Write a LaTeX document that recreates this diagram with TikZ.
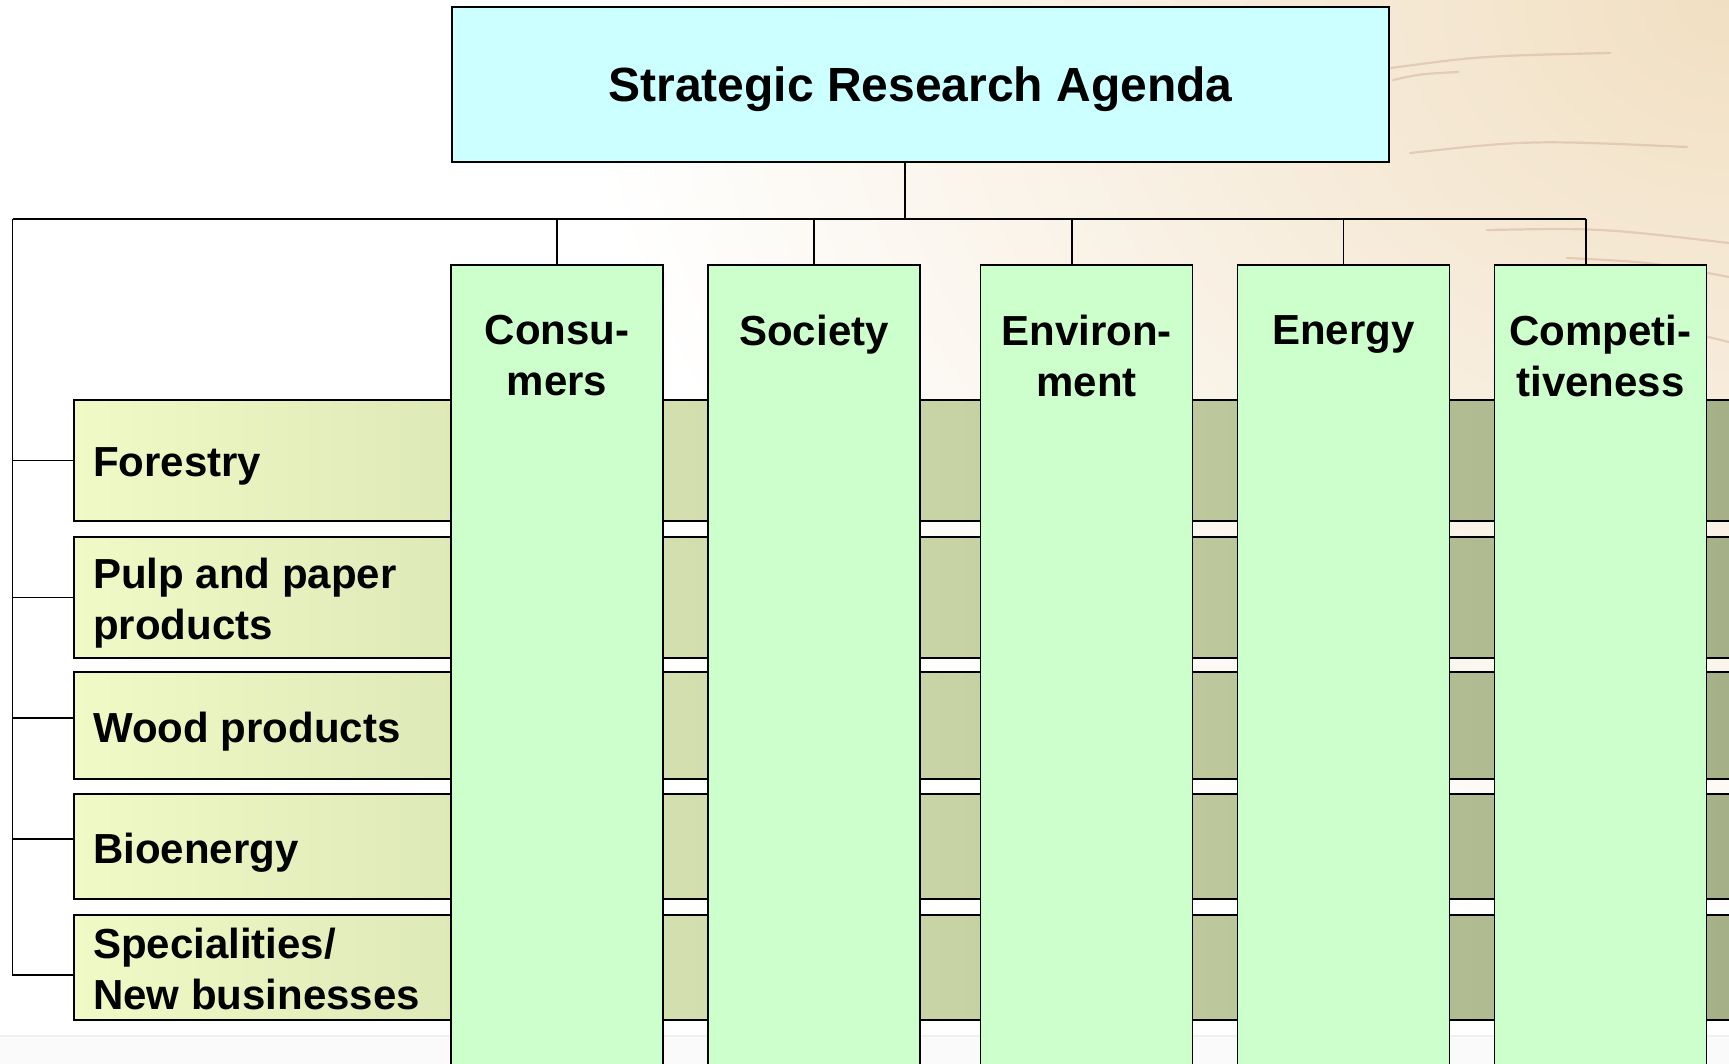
\documentclass[tikz,border=0pt]{standalone}
\usepackage{fontspec}
\setmainfont{Liberation Sans}
\usetikzlibrary{positioning}

\definecolor{agendablue}{HTML}{CCFFFF}
\definecolor{themegreen}{HTML}{CCFFCC}
\definecolor{rowlight}{HTML}{EFFAC6}
\definecolor{rowmid}{HTML}{CDD6A5}
\definecolor{rowdark}{HTML}{A3AE86}
\definecolor{woodbeige}{HTML}{F1DFC2}
\definecolor{woodstreak}{HTML}{D6B49E}

\tikzset{
  agenda/.style={draw, line width=1.8pt, fill=agendablue, minimum width=937pt, minimum height=155pt,
    text height=35pt, text depth=0pt, font=\fontsize{48}{58}\selectfont\bfseries},
  theme/.style={draw, line width=1.7pt, fill=themegreen, minimum width=212pt, minimum height=830pt, anchor=north},
  themetext/.style={align=center, inner sep=0pt, font=\fontsize{42}{51}\selectfont\bfseries},
  sector/.style={draw, line width=1.7pt, left color=rowlight, middle color=rowmid, right color=rowdark,
    minimum width=1700pt, anchor=west},
  sectortext/.style={align=left, inner sep=0pt, font=\fontsize{42}{51}\selectfont\bfseries},
  link/.style={line width=1.7pt},
  streak/.style={woodstreak, line width=2.2pt, opacity=0.55, line cap=round},
}

\begin{document}
\begin{tikzpicture}[x=1pt,y=-1pt]
            \useasboundingbox (0,0) rectangle (1729,1064);
            \clip (0,0) rectangle (1729,1064);
            % slide background
            \fill[white] (0,0) rectangle (1729,1064);
            \shade[inner color=woodbeige, outer color=white] (1729,0) ellipse (1150 and 950);
            \draw[streak] (1391,68) .. controls (1480,56) .. (1610,53);
            \draw[streak] (1393,80) .. controls (1420,74) .. (1458,72);
            \draw[streak] (1410,153) .. controls (1530,140) .. (1687,147);
            \draw[streak] (1487,230) .. controls (1600,228) .. (1729,243);
            \draw[streak] (1567,258) .. controls (1650,262) .. (1729,277);
            \draw[streak] (1700,335) .. controls (1715,338) .. (1729,342);
            \fill[black!2] (0,1036) rectangle (1729,1064);
            \draw[black!6, line width=1.5pt] (0,1036) -- (1729,1036);

            % sectors
            \node[sector, minimum height=121pt] (fore) at (73,460.5) {};
            \node[sector, minimum height=121pt] (pulp) at (73,597.5) {};
            \node[sector, minimum height=107pt] (wood) at (73,725.5) {};
            \node[sector, minimum height=105pt] (bio) at (73,846.5) {};
            \node[sector, minimum height=105pt] (spec) at (73,967.5) {};

            % themes
            \node[theme] (cons) at (557,264) {};
            \node[theme] (soc) at (814,264) {};
            \node[theme] (env) at (1086.5,264) {};
            \node[theme] (ener) at (1343.5,264) {};
            \node[theme] (comp) at (1600.5,264) {};

            \node[themetext, below=51pt of cons.north] (cons-t) {Consu-\\mers};
            \node[themetext, below=51pt of soc.north] (soc-t) {Society};
            \node[themetext, below=51pt of env.north] (env-t) {Environ-\\ment};
            \node[themetext, below=51pt of ener.north] (ener-t) {Energy};
            \node[themetext, below=51pt of comp.north] (comp-t) {Competi-\\tiveness};

            \node[sectortext, right=20pt of fore.west, yshift=-6pt] (fore-t) {Forestry};
            \node[sectortext, right=20pt of pulp.west, yshift=-6pt] (pulp-t) {Pulp and paper\\products};
            \node[sectortext, right=20pt of wood.west, yshift=-6pt] (wood-t) {Wood products};
            \node[sectortext, right=20pt of bio.west, yshift=-6pt] (bio-t) {Bioenergy};
            \node[sectortext, right=20pt of spec.west, yshift=-1pt] (spec-t) {Specialities/\\New businesses};

            % agenda
            \node[agenda] (sra) at (920.5,84.5) {Strategic Research Agenda};

            % connectors
            \coordinate (busW) at (12.5,219);
            \coordinate (busE) at (1586,219);
            \path[link] ([xshift=-15.5pt]sra.south) edge ([xshift=-15.5pt]sra.south |- busW);
            \path[link] (busW) edge (busE);
            \path[link] (cons.north) edge (cons.north |- busW);
            \path[link] (soc.north) edge (soc.north |- busW);
            \path[link] ([xshift=-14.5pt]env.north) edge ([xshift=-14.5pt]env.north |- busW);
            \path[link] (ener.north) edge (ener.north |- busW);
            \path[link] ([xshift=-14.5pt]comp.north) edge (busE);
            \draw[link] (busW) |- ([yshift=-7.5pt]spec.west);
            \path[link] (busW |- fore.west) edge (fore.west);
            \path[link] (busW |- pulp.west) edge (pulp.west);
            \path[link] ([yshift=7.5pt]busW |- wood.west) edge ([yshift=7.5pt]wood.west);
            \path[link] ([yshift=7.5pt]busW |- bio.west) edge ([yshift=7.5pt]bio.west);

\end{tikzpicture}
\end{document}
